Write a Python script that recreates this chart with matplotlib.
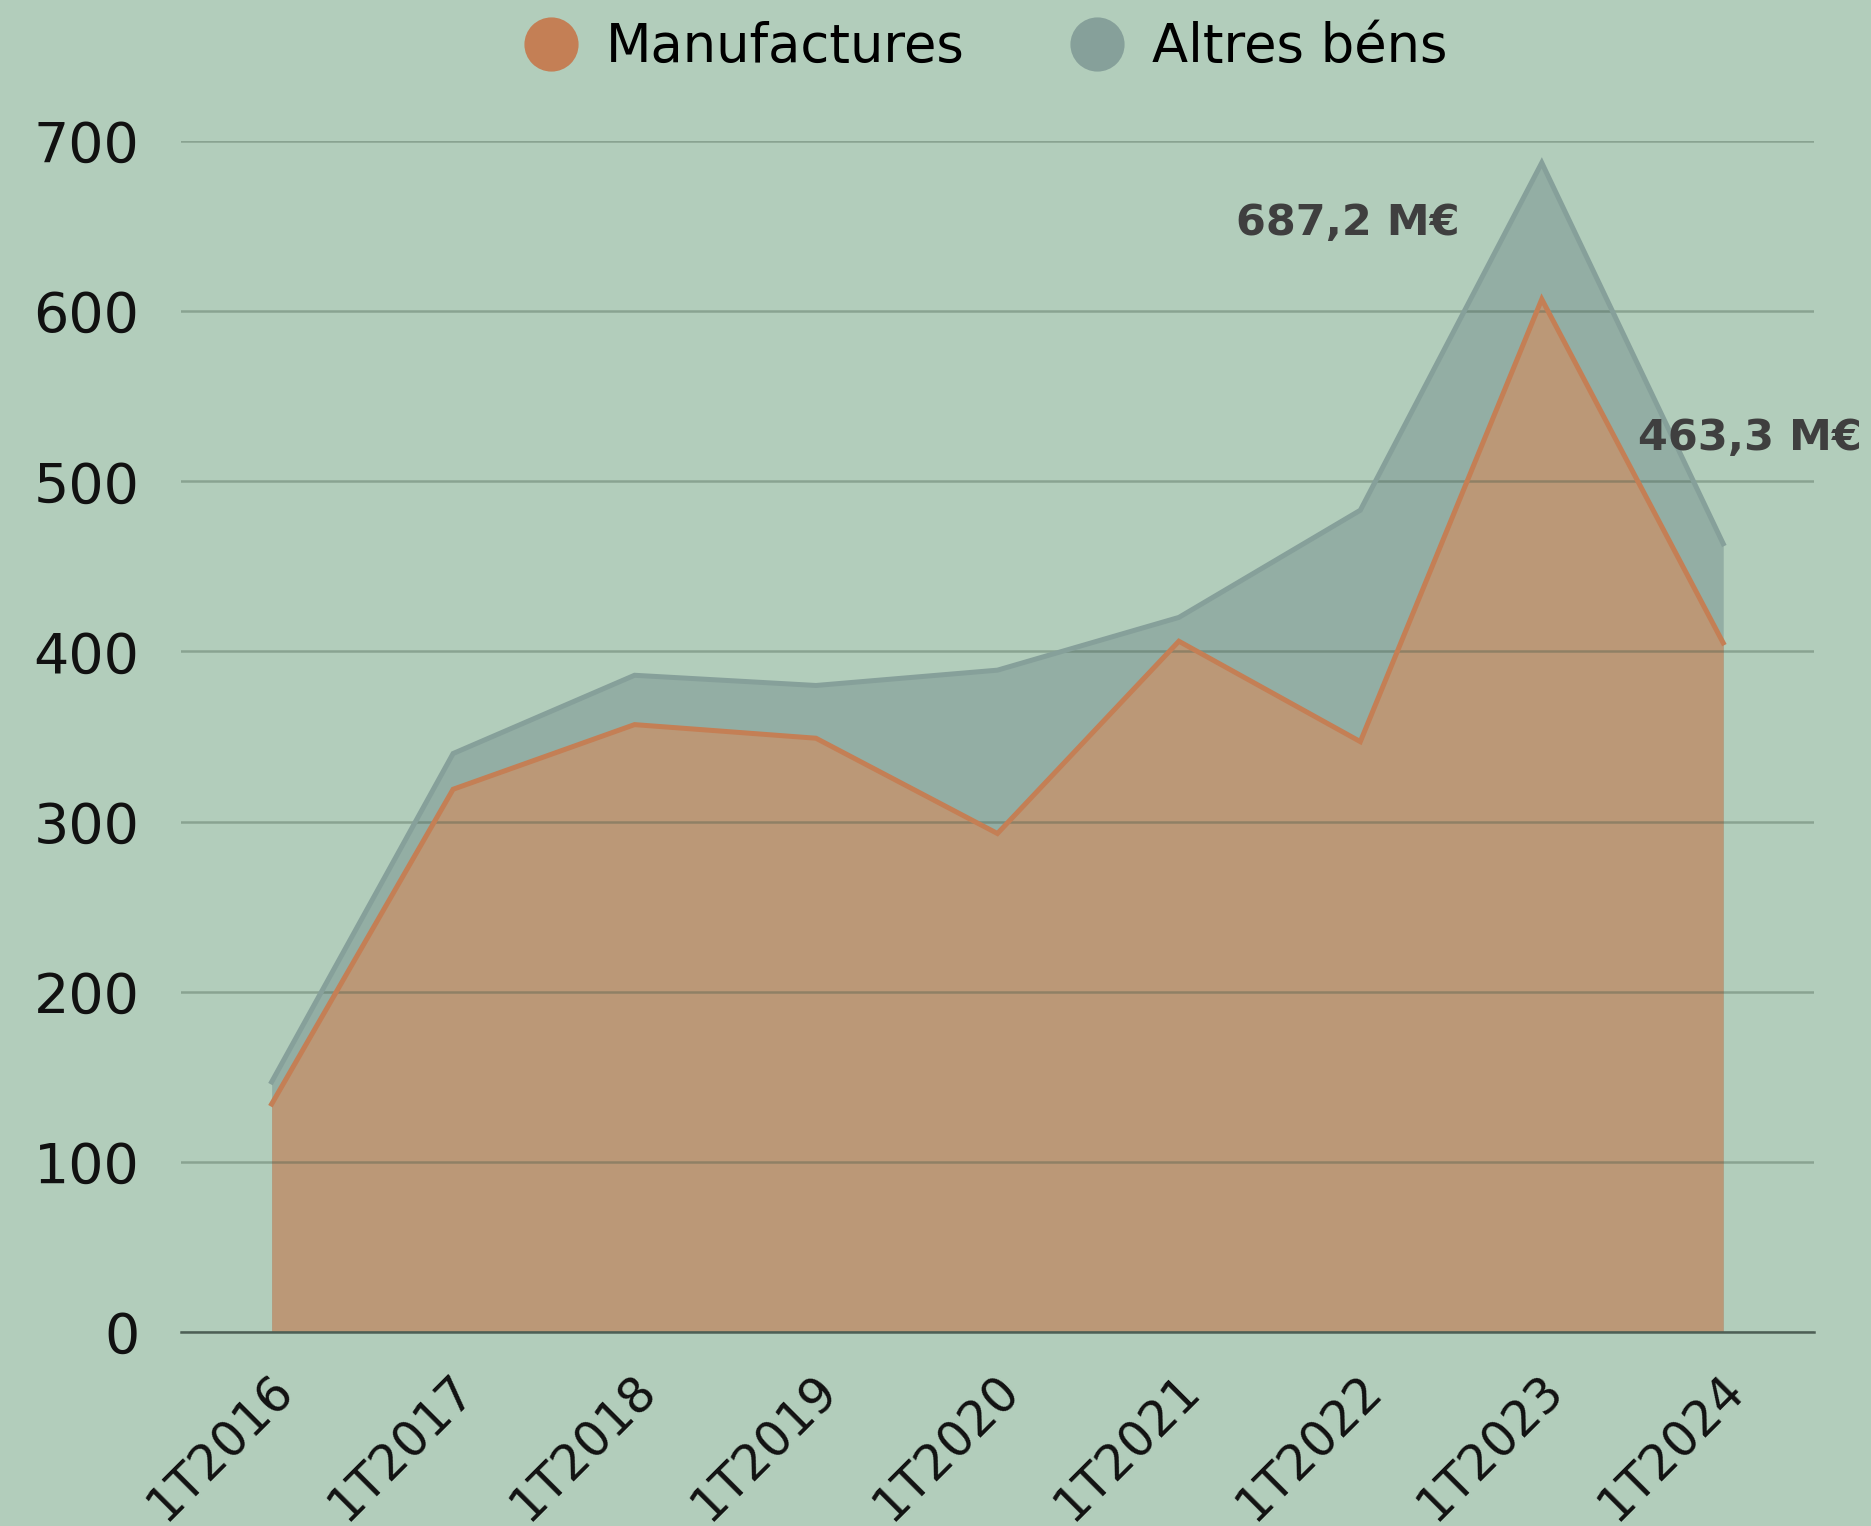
import matplotlib
matplotlib.use('Agg')
import matplotlib.pyplot as plt
from matplotlib.lines import Line2D
from matplotlib.transforms import ScaledTranslation
import numpy as np

# data (milions d'euros)
periodes = ['1T2016', '1T2017', '1T2018', '1T2019', '1T2020',
            '1T2021', '1T2022', '1T2023', '1T2024']
manufactures = [134, 319, 357, 349, 293, 406, 347, 607, 405]
altres_bens = [13, 21, 29, 31, 96, 14, 136, 80.2, 58.3]
etiquetes = {7: '687,2 M€', 8: '463,3 M€'}

bg = '#b2cdbb'
c_manuf_line = '#c47f55'
c_manuf_fill = '#bb9877'
c_altres_line = '#86a09a'
c_altres_fill = '#93aea4'

plt.rcParams['font.family'] = ['DejaVu Sans']

fig = plt.figure(figsize=(18.71, 15.26), dpi=100, facecolor=bg)
ax = fig.add_axes([0.0967, 0.1271, 0.8728, 0.7805], facecolor=bg)

x = np.arange(len(periodes))
manuf = np.array(manufactures)
total = manuf + np.array(altres_bens)

# stacked areas
ax.fill_between(x, 0, total, color=c_altres_fill, lw=0, zorder=2)
ax.plot(x, total, color=c_altres_line, lw=3.6, zorder=4, solid_joinstyle='miter')
ax.fill_between(x, 0, manuf, color=c_manuf_fill, lw=0, zorder=2.5)
ax.plot(x, manuf, color=c_manuf_line, lw=3.6, zorder=4, solid_joinstyle='miter')

ax.set_xlim(-0.5, len(periodes) - 0.5)
ax.set_ylim(0, 700)
ax.set_yticks(range(0, 701, 100))
ax.yaxis.grid(True, color='#3f5644', alpha=0.35, lw=1.8, zorder=3)
ax.set_axisbelow(False)
for s in ['top', 'right', 'left']:
    ax.spines[s].set_visible(False)
ax.spines['bottom'].set_color('#4d5f55')
ax.spines['bottom'].set_linewidth(1.8)
ax.spines['bottom'].set_zorder(5)

ax.tick_params(axis='y', length=0, pad=30, labelsize=40, labelcolor='#111111')
ax.tick_params(axis='x', length=0, pad=36, labelsize=35, labelcolor='#111111')
ax.set_xticks(x)
ax.set_xticklabels(periodes, rotation=45, ha='right', va='center',
                   rotation_mode='anchor')
shift = ScaledTranslation(0.14, 0, fig.dpi_scale_trans)
for lab in ax.get_xticklabels():
    lab.set_transform(lab.get_transform() + shift)

# value labels
offs = {7: (-140, -43), 8: (19, 76)}
for i, txt in etiquetes.items():
    ax.annotate(txt, xy=(x[i], total[i]), xytext=offs[i],
                textcoords='offset points', ha='center', va='center',
                fontsize=31, fontweight='bold', color='#3f3f3f', zorder=6,
                annotation_clip=False)

handles = [Line2D([], [], ls='none', marker='o', ms=38, color=c_manuf_line),
           Line2D([], [], ls='none', marker='o', ms=38, color=c_altres_line)]
fig.legend(handles, ['Manufactures', 'Altres béns'], loc='center',
           bbox_to_anchor=(0.527, 0.969), ncol=2, frameon=False,
           fontsize=38, handletextpad=0.55, columnspacing=2.0,
           handlelength=1.0)

plt.savefig('out.png', dpi=100, facecolor=bg)
